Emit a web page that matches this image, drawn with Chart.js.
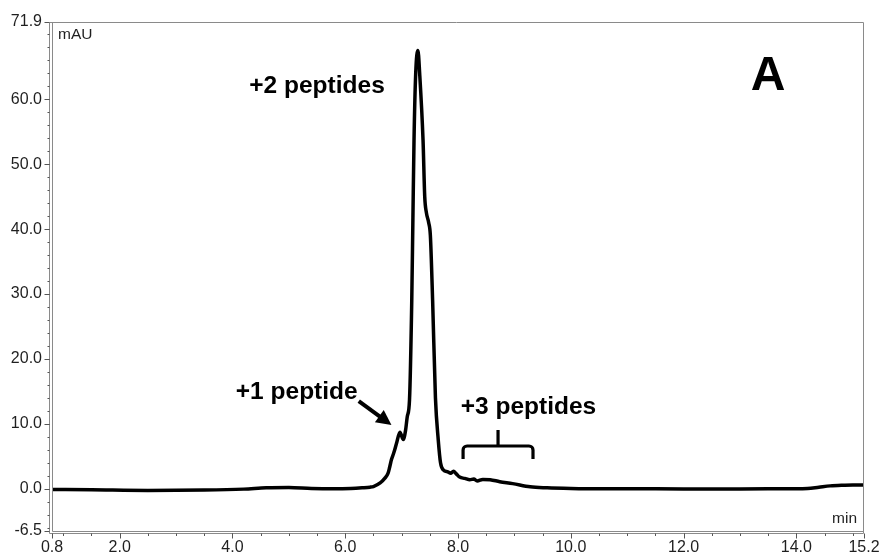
<!DOCTYPE html>
<html>
<head>
<meta charset="utf-8">
<script src="https://cdn.jsdelivr.net/npm/chart.js@4.4.1/dist/chart.umd.min.js"></script>
<style>
  html, body { margin: 0; padding: 0; background: #fff; }
  #wrap { width: 883px; height: 559px; }
</style>
</head>
<body>
<div id="wrap"><canvas id="chrom" width="883" height="559"></canvas></div>
<script>
// retention time (min)
const times = [
  0.8, 1.5, 2.5, 3.5, 4.2, 4.6, 5.0, 5.4, 5.8, 6.1, 6.3, 6.44, 6.5, 6.62, 6.7, 6.76, 6.79, 6.82, 6.86, 6.91,
  6.97, 7.03, 7.07, 7.1, 7.14, 7.18, 7.2, 7.22, 7.25, 7.29, 7.32, 7.38, 7.41, 7.44, 7.48, 7.51, 7.55, 7.6, 7.65, 7.69,
  7.74, 7.82, 7.87, 7.92, 7.97, 8.03, 8.12, 8.21, 8.28, 8.34, 8.44, 8.57, 8.74, 8.97, 9.28, 9.58, 10.0, 10.5, 11.5, 12.5,
  13.5, 14.0, 14.2, 14.4, 14.6, 14.8, 15.0, 15.2
];
// absorbance (mAU)
const absorbance = [
  -0.1, -0.15, -0.25, -0.2, -0.05, 0.15, 0.2, 0.05, 0.0, 0.05, 0.15, 0.25, 0.35, 0.9, 1.6, 2.4, 3.4, 4.5, 5.5, 7.0,
  8.7, 7.6, 9.0, 11.1, 13.7, 29, 41.4, 53.7, 64, 67.5, 64, 53.7, 45, 42.5, 41, 39, 29, 14, 7.5, 4.0,
  2.9, 2.6, 2.4, 2.7, 2.3, 1.8, 1.6, 1.4, 1.5, 1.2, 1.45, 1.4, 1.1, 0.8, 0.3, 0.15, 0.05, 0.0, 0.0, -0.05,
  0.0, 0.0, 0.05, 0.25, 0.45, 0.55, 0.6, 0.6
];

const xTicks = [0.8, 2.0, 4.0, 6.0, 8.0, 10.0, 12.0, 14.0, 15.2];
const yTicks = [-6.5, 0, 10, 20, 30, 40, 50, 60, 71.9];

const FONT = '"Liberation Sans", Arial, sans-serif';
const AXIS_GREY = '#8a8a8a';

// double-line frame plus major/minor tick marks
const frame = {
  id: 'frame',
  afterDraw(chart) {
    const { ctx, chartArea: a, scales: { x, y } } = chart;
    const line = (x1, y1, x2, y2) => { ctx.beginPath(); ctx.moveTo(x1, y1); ctx.lineTo(x2, y2); ctx.stroke(); };
    ctx.save();
    ctx.strokeStyle = AXIS_GREY;
    ctx.lineWidth = 1;
    const L = a.left + 0.5, LO = a.left - 2.5, B = a.bottom + 0.5, BO = a.bottom + 2.5;
    const T = a.top + 0.5, R = a.right - 0.5;
    line(L, T, L, B);
    line(LO, T, LO, BO);
    line(L, B, R, B);
    line(LO, BO, R, BO);
    line(LO, T, R, T);
    line(R, T, R, BO);

    ctx.strokeStyle = '#555';
    // y ticks
    for (let v = -6; v <= 71.9; v += 2) {
      const py = Math.round(y.getPixelForValue(v)) + 0.5;
      line(LO - 2, py, LO, py);
    }
    yTicks.forEach(v => {
      const py = Math.round(y.getPixelForValue(v)) + 0.5;
      line(LO - 5, py, LO, py);
    });
    // x ticks
    for (let v = 1.0; v <= 15.2; v += 0.5) {
      const px = Math.round(x.getPixelForValue(v)) + 0.5;
      line(px, BO, px, BO + 2.5);
    }
    xTicks.forEach(v => {
      const px = Math.round(x.getPixelForValue(v)) + 0.5;
      line(px, BO, px, BO + 5);
    });

    // axis units
    ctx.fillStyle = '#1f1f1f';
    ctx.font = `15.5px ${FONT}`;
    ctx.textBaseline = 'alphabetic';
    ctx.textAlign = 'left';
    ctx.fillText('mAU', a.left + 6, a.top + 17);
    ctx.textAlign = 'right';
    ctx.fillText('min', a.right - 7, a.bottom - 8);
    ctx.restore();
  }
};

// peak labels, arrow and bracket, placed in data units
const notes = {
  id: 'notes',
  afterDatasetsDraw(chart) {
    const { ctx, scales: { x, y } } = chart;
    const px = v => x.getPixelForValue(v), py = v => y.getPixelForValue(v);
    ctx.save();
    ctx.fillStyle = '#000';
    ctx.strokeStyle = '#000';
    ctx.textAlign = 'center';
    ctx.textBaseline = 'alphabetic';
    ctx.font = `bold 24.5px ${FONT}`;
    ctx.fillText('+2 peptides', px(5.5), py(61.0));
    ctx.fillText('+1 peptide', px(5.14), py(13.85));
    ctx.fillText('+3 peptides', px(9.25), py(11.5));
    ctx.font = `bold 48px ${FONT}`;
    ctx.fillText('A', px(13.5), py(61.4));

    // arrow to the +1 shoulder
    const x1 = px(6.24), y1 = py(13.5), x2 = px(6.82), y2 = py(9.83);
    const ang = Math.atan2(y2 - y1, x2 - x1), head = 15, wing = 7.5;
    const bx = x2 - head * Math.cos(ang), by = y2 - head * Math.sin(ang);
    ctx.lineWidth = 4;
    ctx.beginPath(); ctx.moveTo(x1, y1); ctx.lineTo(bx + 2 * Math.cos(ang), by + 2 * Math.sin(ang)); ctx.stroke();
    ctx.beginPath();
    ctx.moveTo(x2, y2);
    ctx.lineTo(bx + wing * Math.sin(ang), by - wing * Math.cos(ang));
    ctx.lineTo(bx - wing * Math.sin(ang), by + wing * Math.cos(ang));
    ctx.closePath(); ctx.fill();

    // bracket over the +3 tail
    const l = px(8.09), r = px(9.33), m = px(8.71);
    const h = py(6.59), e = py(4.59), t = py(9.06), rad = 4;
    ctx.lineWidth = 3.2;
    ctx.lineJoin = 'round';
    ctx.beginPath();
    ctx.moveTo(l, e);
    ctx.arcTo(l, h, l + rad, h, rad);
    ctx.arcTo(r, h, r, e, rad);
    ctx.lineTo(r, e);
    ctx.stroke();
    ctx.beginPath(); ctx.moveTo(m, h); ctx.lineTo(m, t); ctx.stroke();
    ctx.restore();
  }
};

new Chart(document.getElementById('chrom'), {
  type: 'line',
  data: {
    datasets: [{
      data: times.map((t, i) => ({ x: t, y: absorbance[i] })),
      borderColor: '#000',
      borderWidth: 3.5,
      pointRadius: 0,
      cubicInterpolationMode: 'monotone',
      fill: false
    }]
  },
  options: {
    responsive: false,
    animation: false,
    layout: { padding: { left: 0, top: 22, right: 19, bottom: 0 } },
    plugins: { legend: { display: false }, tooltip: { enabled: false } },
    scales: {
      x: {
        type: 'linear', min: 0.8, max: 15.2,
        grid: { display: false, drawTicks: true, tickLength: 5 },
        border: { display: false },
        afterBuildTicks: s => { s.ticks = xTicks.map(v => ({ value: v })); },
        afterFit: s => { s.height = 28; },
        ticks: { autoSkip: false, maxRotation: 0, padding: 2, color: '#1f1f1f', font: { family: FONT, size: 16 }, callback: v => Number(v).toFixed(1) }
      },
      y: {
        type: 'linear', min: -6.5, max: 71.9,
        grid: { display: false, drawTicks: true, tickLength: 6 },
        border: { display: false },
        afterBuildTicks: s => { s.ticks = yTicks.map(v => ({ value: v })); },
        afterFit: s => { s.width = 52; },
        ticks: { autoSkip: false, padding: 4, color: '#1f1f1f', font: { family: FONT, size: 16 }, callback: v => Number(v).toFixed(1) }
      }
    }
  },
  plugins: [frame, notes]
});
</script>
</body>
</html>
